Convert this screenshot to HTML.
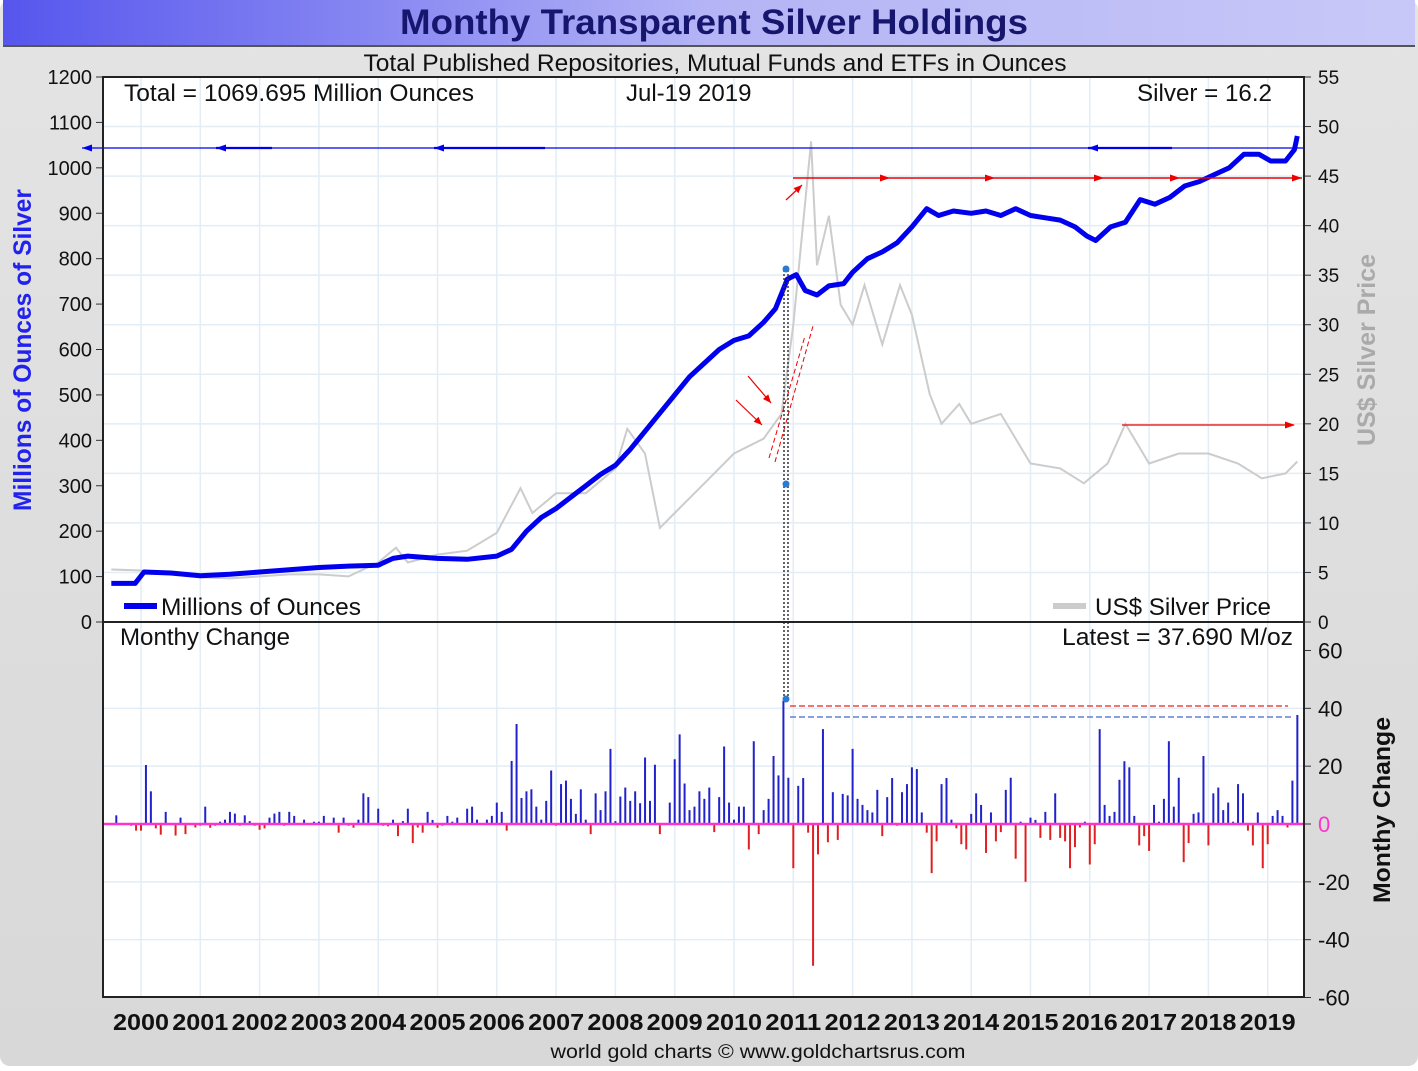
<!DOCTYPE html>
<html><head><meta charset="utf-8">
<style>
html,body{margin:0;padding:0;}
body{width:1418px;height:1066px;overflow:hidden;background:#fff;font-family:"Liberation Sans",sans-serif;}
svg text{font-family:"Liberation Sans",sans-serif;}
</style></head>
<body>
<svg id="chart" width="1418" height="1066" viewBox="0 0 1418 1066" xmlns="http://www.w3.org/2000/svg">
<defs>
<linearGradient id="tg" x1="0" x2="1" y1="0" y2="0"><stop offset="0" stop-color="#5656ee"/><stop offset="0.5" stop-color="#b4b4f6"/><stop offset="1" stop-color="#c8c8f8"/></linearGradient>
<linearGradient id="bg" x1="0" x2="0" y1="0" y2="1"><stop offset="0" stop-color="#e4e4e4"/><stop offset="1" stop-color="#d8d8d8"/></linearGradient>
</defs>
<rect x="0" y="0" width="1418" height="1066" rx="10" fill="url(#bg)"/>
<rect x="3" y="0" width="1412" height="46" fill="url(#tg)"/>
<line x1="3" y1="46" x2="1415" y2="46" stroke="#555" stroke-width="2"/>
<text x="714" y="34" text-anchor="middle" font-size="35" font-weight="bold" fill="#16166e" textLength="628" lengthAdjust="spacingAndGlyphs">Monthy Transparent Silver Holdings</text>
<text x="715" y="71" text-anchor="middle" font-size="24" fill="#111" textLength="703" lengthAdjust="spacingAndGlyphs">Total Published Repositories, Mutual Funds and ETFs in Ounces</text>
<rect x="103" y="77" width="1201" height="920" fill="#fff"/>
<g id="grid"></g>
<g id="gray"></g>
<g id="bars"></g>
<g id="blue"></g>
<g id="annot"></g>
<g id="axes"></g>
<text x="124" y="101" font-size="24" fill="#111" textLength="350" lengthAdjust="spacingAndGlyphs">Total = 1069.695 Million Ounces</text>
<text x="626" y="101" font-size="24" fill="#111">Jul-19  2019</text>
<text x="1137" y="101" font-size="24" fill="#111" textLength="135" lengthAdjust="spacingAndGlyphs">Silver = 16.2</text>
<text x="120" y="645" font-size="24" fill="#111" textLength="170" lengthAdjust="spacingAndGlyphs">Monthy Change</text>
<text x="1293" y="645" text-anchor="end" font-size="24" fill="#111" textLength="231" lengthAdjust="spacingAndGlyphs">Latest = 37.690 M/oz</text>
<g><rect x="124" y="603" width="33" height="6" fill="#0000ee"/><text x="161" y="615" font-size="24" fill="#111" textLength="200" lengthAdjust="spacingAndGlyphs">Millions of Ounces</text></g>
<g><rect x="1053" y="603" width="33" height="6" fill="#cccccc"/><text x="1095" y="615" font-size="24" fill="#111" textLength="176" lengthAdjust="spacingAndGlyphs">US$ Silver Price</text></g>
<text transform="translate(31,350) rotate(-90)" text-anchor="middle" font-size="25" font-weight="bold" fill="#2222ee" textLength="322" lengthAdjust="spacingAndGlyphs">Millions of Ounces of Silver</text>
<text transform="translate(1375,350) rotate(-90)" text-anchor="middle" font-size="25" font-weight="bold" fill="#aaaaaa" textLength="192" lengthAdjust="spacingAndGlyphs">US$ Silver Price</text>
<text transform="translate(1390,810) rotate(-90)" text-anchor="middle" font-size="24" font-weight="bold" fill="#111" textLength="186" lengthAdjust="spacingAndGlyphs">Monthy Change</text>
<text x="758" y="1058" text-anchor="middle" font-size="19" fill="#111" textLength="415" lengthAdjust="spacingAndGlyphs">world gold charts © www.goldchartsrus.com</text>
</svg>
<script>
const years=[2000,2001,2002,2003,2004,2005,2006,2007,2008,2009,2010,2011,2012,2013,2014,2015,2016,2017,2018,2019];
const leftTicks=[0,100,200,300,400,500,600,700,800,900,1000,1100,1200];
const rightTicks=[0,5,10,15,20,25,30,35,40,45,50,55];
const changeTicks=[-60,-40,-20,0,20,40,60];
const holdDates=[1999.5,1999.9,2000.05,2000.5,2001,2001.5,2002,2002.5,2003,2003.5,2004,2004.25,2004.5,2005,2005.5,2006,2006.25,2006.5,2006.75,2007,2007.25,2007.5,2007.75,2008,2008.25,2008.5,2008.75,2009,2009.25,2009.5,2009.75,2010,2010.25,2010.5,2010.7,2010.9,2011.05,2011.2,2011.4,2011.6,2011.85,2012,2012.25,2012.5,2012.75,2013,2013.25,2013.45,2013.7,2014,2014.25,2014.5,2014.75,2015,2015.25,2015.5,2015.75,2015.95,2016.1,2016.35,2016.6,2016.85,2017.1,2017.35,2017.6,2017.85,2018.1,2018.35,2018.6,2018.85,2019.05,2019.3,2019.45,2019.5];
const holdVals=[85,85,110,108,102,105,110,115,120,123,125,140,145,140,138,145,160,200,230,250,275,300,325,345,380,420,460,500,540,570,600,620,630,660,690,755,765,730,720,740,745,770,800,815,835,870,910,895,905,900,905,895,910,895,890,885,870,850,840,870,880,930,920,935,960,970,985,1000,1030,1030,1015,1015,1040,1070];
const priceDates=[1999.5,2000,2000.5,2001,2001.5,2002,2002.5,2003,2003.5,2004,2004.3,2004.5,2005,2005.5,2006,2006.4,2006.6,2007,2007.5,2008,2008.2,2008.5,2008.75,2009,2009.5,2010,2010.5,2010.8,2011,2011.3,2011.4,2011.6,2011.8,2012,2012.2,2012.5,2012.8,2013,2013.3,2013.5,2013.8,2014,2014.5,2015,2015.5,2015.9,2016.3,2016.6,2017,2017.5,2018,2018.5,2018.9,2019.3,2019.5];
const priceVals=[5.3,5.2,5.0,4.5,4.4,4.6,4.8,4.8,4.6,6.0,7.5,6.0,6.8,7.2,9.0,13.5,11.0,13.0,13.0,15.5,19.5,17.0,9.5,11.0,14.0,17.0,18.5,21.0,30.0,48.5,36.0,41.0,32.0,30.0,34.0,28.0,34.0,31.0,23.0,20.0,22.0,20.0,21.0,16.0,15.5,14.0,16.0,20.0,16.0,17.0,17.0,16.0,14.5,15.0,16.2];
const changeVals=[0,3,0,0,-0.6,-2.3,-2.3,20.4,11.3,-1.5,-3.7,4.2,0,-4,2.2,-3.5,0,-1.2,-0.6,6,-1.3,-0.6,0.8,1.5,4.2,3.6,-0.6,3,1,-0.6,-2,-1.5,2.2,3.6,4.2,-0.6,4.2,2.8,0,1.5,0,0.8,0.8,2.8,0,2.2,-3,2.2,-0.6,-1.3,1.5,10.6,9.3,0,5.3,-0.6,-0.8,1.5,-4.2,1,5.3,-6.6,-1.2,-3,4.2,1.4,-1.3,-0.6,2.8,0.8,2.2,0,5.3,6,1.5,0,1.5,2.8,7.4,4.2,-2.3,21.8,34.6,9,11.3,12,6,1.5,8,18.5,-0.6,13.8,15,8.7,3.5,12,1.5,-3.5,10.6,4.8,11.3,26,1,9.5,12.6,8,11.3,7.2,23,8,20.5,-3.5,0,7.4,22.4,31,14,4.8,6,11.3,8.7,12.6,-2.8,9.3,26.8,7.4,1.5,6,6,-8.8,28.6,-3.5,4.8,8.7,23.5,16.8,42.6,16,-15.3,13.2,15.9,-3,-49,-10.5,32.8,-6.3,11,-5.5,10.4,9.9,26,8.7,6.6,4.8,4,11.8,-4.2,9.3,15.9,-0.6,11,13.8,19.6,19,4,-3,-17,-6,13.8,15.9,1.5,-1.5,-7,-8.8,3.5,10.6,6.6,-10,4,-6,-2.8,11.8,16,-12,0.8,-20,2.2,1.4,-4.8,4.2,-5.5,10.6,-4.8,-6,-15.3,-8,-1.2,0.8,-14,-7,32.8,6.6,2.8,4.2,15.3,21.7,19.6,2.8,-7.4,-4.2,-9.3,6.6,0.8,8.7,28.6,6,16,-13.2,-6.6,3.5,4,23.5,-7.4,10.6,12.6,4.8,7.4,0.8,13.8,10.6,-2.3,-7.4,4,-15.3,-7,2.8,4.8,2.8,-1.2,15,37.7];

const NS="http://www.w3.org/2000/svg";
const X=t=>141+(t-2000)*59.3;
const YL=v=>622-v*545/1200;
const YR=v=>622-v*545/55;
const YC=v=>824-v*173.5/60;
function mk(tag,attrs,parent){const e=document.createElementNS(NS,tag);for(const k in attrs)e.setAttribute(k,attrs[k]);parent.appendChild(e);return e;}
const grid=document.getElementById('grid'),axes=document.getElementById('axes');
years.forEach(y=>{
  const g=mk('line',{x1:X(y),x2:X(y),y1:77,y2:997,stroke:'#e2edf5','stroke-width':1.5},grid);
  
  
  const t=mk('text',{x:X(y),y:1030,'text-anchor':'middle','font-size':23,'font-weight':'bold',fill:'#111',textLength:'56',lengthAdjust:'spacingAndGlyphs'},axes);
  t.textContent=y;
  
  
});
rightTicks.forEach(v=>{
  if(v>0){const g=mk('line',{x1:103,x2:1304,y1:YR(v),y2:YR(v),stroke:'#e2edf5','stroke-width':1.5},grid);
  
  }
  mk('line',{x1:1304,x2:1311,y1:YR(v),y2:YR(v),stroke:'#333'},axes);
  const t=mk('text',{x:1318,y:YR(v)+7,'font-size':19,fill:'#111'},axes);
  t.textContent=v;
  
  
});
leftTicks.forEach(v=>{
  mk('line',{x1:96,x2:103,y1:YL(v),y2:YL(v),stroke:'#333'},axes);
  const t=mk('text',{x:92,y:YL(v)+7,'text-anchor':'end','font-size':20,fill:'#111'},axes);
  t.textContent=v;
  
  
});
changeTicks.forEach(v=>{
  if(v!==0&&v!==60&&v!==-60){const g=mk('line',{x1:103,x2:1304,y1:YC(v),y2:YC(v),stroke:'#e2edf5','stroke-width':1.5},grid);
  
  }
  mk('line',{x1:1304,x2:1311,y1:YC(v),y2:YC(v),stroke:'#333'},axes);
  const t=mk('text',{x:1318,y:YC(v)+8,'font-size':22,fill:v===0?'#ff33cc':'#111'},axes);
  t.textContent=v;
  
  
});
mk('rect',{x:103,y:77,width:1201,height:920,fill:'none',stroke:'#222','stroke-width':2},axes);
mk('line',{x1:103,x2:1304,y1:622,y2:622,stroke:'#222','stroke-width':2},axes);
let d='';priceDates.forEach((t,i)=>{d+=(i?'L':'M')+X(t).toFixed(1)+','+YR(priceVals[i]).toFixed(1);});
const gp=mk('path',{d:d,fill:'none',stroke:'#cccccc','stroke-width':2},document.getElementById('gray'));


d='';holdDates.forEach((t,i)=>{d+=(i?'L':'M')+X(t).toFixed(1)+','+YL(holdVals[i]).toFixed(1);});
const bp=mk('path',{d:d,fill:'none',stroke:'#0000ee','stroke-width':5,'stroke-linejoin':'round'},document.getElementById('blue'));


const bars=document.getElementById('bars');
changeVals.forEach((v,i)=>{
  if(v===0)return;
  const x=X(1999.5+i/12);
  const b=mk('line',{x1:x,x2:x,y1:YC(0),y2:YC(v),stroke:v>0?'#2222cc':'#e02020','stroke-width':2},bars);
  
  
});
const zl=mk('line',{x1:103,x2:1304,y1:YC(0),y2:YC(0),stroke:'#ff33cc','stroke-width':2.5},bars);


const an=document.getElementById('annot');
mk('line',{x1:1304,x2:82,y1:148,y2:148,stroke:'#0000ee','stroke-width':1.2},an);
[82,216,434,1088].forEach(x=>mk('path',{d:`M${x},148 l10,-3.5 v7 z`,fill:'#0000ee'},an));
[[216,272],[434,545],[1088,1172]].forEach(s=>mk('line',{x1:s[0],x2:s[1],y1:148,y2:148,stroke:'#0000ee','stroke-width':2.2},an));
mk('line',{x1:793,x2:1302,y1:178,y2:178,stroke:'#ee0000','stroke-width':1.5},an);
[890,995,1104,1180,1302].forEach(x=>mk('path',{d:`M${x},178 l-10,-3.5 v7 z`,fill:'#ee0000'},an));
function arrow(x1,y1,x2,y2){
  mk('line',{x1:x1,y1:y1,x2:x2,y2:y2,stroke:'#ee0000','stroke-width':1.2},an);
  const a=Math.atan2(y2-y1,x2-x1),L=9;
  mk('path',{d:`M${x2},${y2} L${x2-L*Math.cos(a-0.4)},${y2-L*Math.sin(a-0.4)} L${x2-L*Math.cos(a+0.4)},${y2-L*Math.sin(a+0.4)} Z`,fill:'#ee0000'},an);
}
arrow(786,200,802,185);
mk('line',{x1:1122,x2:1294,y1:425,y2:425,stroke:'#ee0000','stroke-width':1.2},an);
mk('path',{d:'M1295,425 l-10,-3.5 v7 z',fill:'#ee0000'},an);
arrow(748,376,771,403);
arrow(736,400,762,425);
mk('line',{x1:769,y1:458,x2:805,y2:336,stroke:'#ee0000','stroke-width':1,'stroke-dasharray':'5,3'},an);
mk('line',{x1:775,y1:462,x2:813,y2:326,stroke:'#ee0000','stroke-width':1,'stroke-dasharray':'5,3'},an);
mk('line',{x1:784,x2:784,y1:270,y2:700,stroke:'#333','stroke-width':1.5,'stroke-dasharray':'2,2'},an);
mk('line',{x1:788,x2:788,y1:270,y2:700,stroke:'#333','stroke-width':1.5,'stroke-dasharray':'2,2'},an);
[[786,269],[786,484],[786,699]].forEach(p=>mk('circle',{cx:p[0],cy:p[1],r:3.5,fill:'#2a7ad0'},an));
mk('line',{x1:790,x2:1288,y1:706,y2:706,stroke:'#ee2222','stroke-width':1.2,'stroke-dasharray':'6,3'},an);
mk('line',{x1:790,x2:1292,y1:717,y2:717,stroke:'#4466cc','stroke-width':1.2,'stroke-dasharray':'6,3'},an);
</script>
</body></html>
